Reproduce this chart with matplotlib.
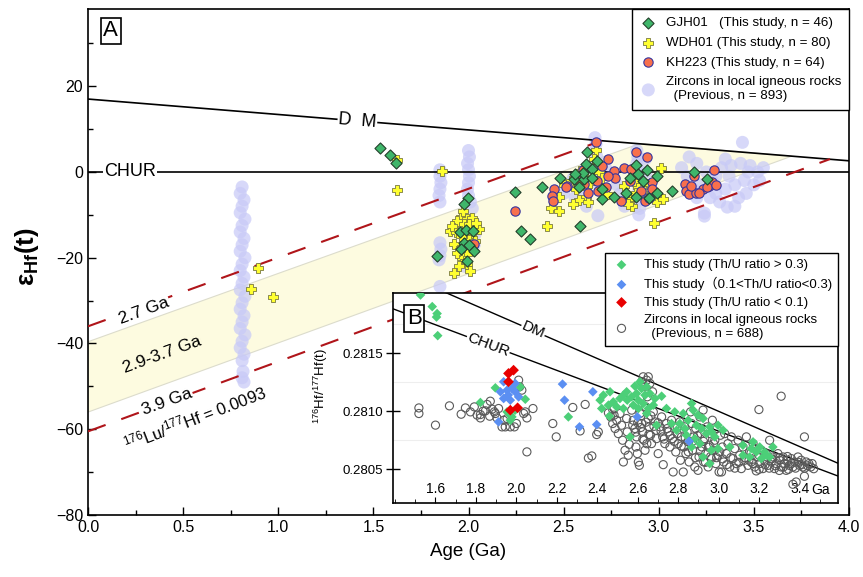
import matplotlib
matplotlib.use('Agg')
import matplotlib.pyplot as plt
from matplotlib.ticker import MultipleLocator, FormatStrFormatter
import matplotlib.transforms as mtransforms

plt.rcParams['font.family'] = ['Liberation Sans', 'Noto Sans CJK SC', 'DejaVu Sans']
plt.rcParams['mathtext.fontset'] = 'custom'
plt.rcParams['mathtext.rm'] = 'Liberation Sans'
plt.rcParams['mathtext.it'] = 'Liberation Sans:italic'
plt.rcParams['mathtext.bf'] = 'Liberation Sans:bold'

# ---------------- model lines (main panel) ----------------
dm_age = [0.0, 4.0]
dm_eps = [17.0, 2.6]
chur_age = [0.0, 4.0]
chur_eps = [0.0, 0.0]
cc27_age = [0.0, 2.7]
cc27_eps = [-36.0, 7.3]
cc39_age = [0.0, 3.9]
cc39_eps = [-60.5, 3.0]
band_age = [0.0, 2.9, 3.7, 0.0]
band_eps = [-39.6, 6.6, 3.7, -56.0]

# ---------------- main panel data (age Ga, eHf(t)) ----------------
gjh01 = [(1.533, 5.6), (1.589, 4.0), (1.62, 2.0), (1.998, -6.1), (1.975, -7.4), (1.832, -19.6),
         (1.955, -14.1), (1.985, -13.5), (2.025, -13.8), (1.975, -16.5), (2.0, -17.0), (1.96, -18.0),
         (2.03, -18.5), (1.99, -20.8), (2.242, -4.6), (2.274, -13.7), (2.323, -15.7),
         (2.625, 4.6), (2.616, 1.9), (2.677, 2.6), (2.651, 0.7), (2.554, -1.6), (2.481, -1.5),
         (2.607, -1.6), (2.651, -1.3), (2.388, -3.4), (2.879, 1.6), (2.937, 0.5), (2.891, -0.5),
         (2.919, -2.0), (2.993, -1.0), (2.829, -4.8), (2.879, -5.9), (2.765, -5.9), (2.704, -6.3),
         (2.989, -4.8), (3.072, -4.4), (2.586, -12.7), (3.186, 0.1), (3.256, -1.6),
         (2.58, -3.5), (2.70, -4.0), (2.85, -1.5), (2.95, -6.0), (2.60, -0.3), (2.56, -0.5)]

wdh01 = [(1.625, 2.9), (1.861, 0.2), (1.623, -4.1), (1.923, -23.5), (0.896, -22.5), (0.856, -27.2),
         (0.975, -29.1),
         (1.958, -10.4), (1.993, -11.0), (2.019, -10.8), (1.940, -11.4), (1.975, -12.2), (2.002, -12.2),
         (2.054, -13.3), (1.905, -13.7), (1.932, -14.1), (1.958, -14.9), (2.011, -14.9), (1.984, -16.5),
         (1.923, -16.8), (1.967, -17.6), (2.019, -18.0), (1.993, -19.2), (1.967, -20.0), (1.984, -20.7),
         (1.993, -21.5), (1.97, -9.0), (2.04, -12.0), (1.915, -12.5), (2.0, -15.8), (1.94, -18.8),
         (2.035, -16.0), (1.95, -22.0), (2.01, -23.0),
         (2.668, 5.2), (2.586, 0.3), (2.686, 0.1), (2.563, -4.0), (2.616, -3.8), (2.616, -5.9),
         (2.475, -5.9), (2.432, -8.5), (2.475, -9.1), (2.411, -12.7), (2.726, -5.1), (2.818, -3.2),
         (2.891, -3.6), (2.949, -2.8), (3.011, 0.9), (2.853, -6.3), (2.861, -7.9), (2.993, -7.1),
         (3.024, -6.3), (2.975, -11.9),
         (2.54, -2.0), (2.60, -1.0), (2.58, -6.5), (2.64, -2.5), (2.66, 3.0), (2.70, -1.5),
         (2.88, -5.0), (2.92, -4.5), (2.84, -7.5), (2.55, -7.5), (2.50, -3.0), (2.63, -7.0),
         (2.95, -5.5), (2.87, -2.0)]

kh223 = [(2.668, 7.1), (2.733, 3.0), (2.879, 4.6), (2.940, 3.4), (2.818, 0.9), (2.853, 0.7),
         (2.765, 0.3), (2.768, -1.5), (2.733, -1.0), (2.677, -2.0), (2.607, -2.8), (2.519, -3.2),
         (2.511, -3.6), (2.449, -4.0), (2.440, -5.5), (2.445, -6.7), (2.721, -3.6), (2.80, -6.7),
         (2.966, -2.4), (2.966, -4.0), (2.926, -6.7), (2.905, -4.4), (3.137, -2.8), (3.142, -4.4),
         (2.581, -2.0), (3.186, -0.9), (3.159, -5.1), (3.195, -4.8), (3.235, -4.0), (3.265, -3.2),
         (3.282, -2.4), (3.291, 0.5), (3.253, -3.6), (2.247, -9.0), (2.03, -16.8),
         (2.68, -4.5), (2.63, -5.0), (2.70, 1.5), (2.60, 0.5), (2.85, -2.0), (2.95, -6.0),
         (3.21, -5.0), (3.17, -3.3), (3.30, -3.0)]

prev_main = [(0.81, -3.5), (0.80, -5), (0.82, -6.5), (0.81, -8), (0.80, -9.5), (0.825, -11),
             (0.81, -12.5), (0.80, -14), (0.82, -15.5), (0.81, -17), (0.80, -18.5), (0.825, -20),
             (0.81, -21.5), (0.80, -23), (0.82, -24.5), (0.81, -26), (0.80, -27.5), (0.825, -29),
             (0.81, -30.5), (0.80, -32), (0.82, -33.5), (0.81, -35), (0.80, -36.5), (0.825, -38),
             (0.81, -39.5), (0.80, -41), (0.82, -42.5), (0.81, -44), (0.815, -46.5), (0.81, -48),
             (0.82, -49),
             (1.85, 0.5), (1.85, -1), (1.855, -2.5), (1.85, -4), (1.845, -5.5), (1.85, -7),
             (1.85, -16.5), (1.855, -18), (1.85, -19.5), (1.845, -20.5), (1.85, -26.7),
             (2.0, 5), (2.005, 3.5), (1.995, 2), (2.0, 0.5), (2.005, -1), (2.0, -2.5), (1.995, -4),
             (2.0, -5.5), (2.01, -7), (2.02, -8.5), (2.03, -12), (2.035, -14.5), (2.03, -17), (1.98, -22),
             (2.665, 8), (2.67, 6.5), (2.665, 5), (2.675, 3.5), (2.67, 2), (2.665, 0.5), (2.67, -1),
             (2.675, -2.5), (2.68, -10.2), (2.6, -4), (2.55, -1.5), (2.72, 1), (2.56, -6), (2.5, -5),
             (2.62, -8),
             (2.885, 5), (2.89, 3.5), (2.885, 2), (2.895, 0.5), (2.89, -1), (2.885, -2.5), (2.895, -4),
             (2.89, -5.5), (2.885, -7), (2.9, -8.5), (2.895, -10), (2.93, 3), (2.935, 0), (2.93, -3),
             (2.94, -6), (2.78, -3), (2.8, -5), (2.82, -8),
             (3.15, -1), (3.2, 2), (3.22, -3), (3.25, 0), (3.28, -2), (3.3, -5), (3.32, -7), (3.35, -4),
             (3.37, -1), (3.38, 1.5), (3.4, -3), (3.42, -6), (3.45, -2), (3.47, 0), (3.43, 2),
             (3.36, -8.2), (3.24, -9.6), (3.44, 6.9), (3.3, -1), (3.27, -6), (3.33, 1), (3.18, -4),
             (3.4, -8), (3.46, -5), (3.35, 3), (3.5, -3), (3.52, 0), (3.48, 1.5), (3.55, 1), (3.53, -2),
             (3.12, 1), (3.16, 3.5), (3.2, -6), (3.24, -10.3)]

# ---------------- inset model lines (176Hf/177Hf) ----------------
dm_in_age = [1.39, 3.59]
dm_in_r = [0.282218, 0.280552]
chur_in_age = [1.39, 3.59]
chur_in_r = [0.281881, 0.280442]

# ---------------- inset data (age Ga, 176Hf/177Hf(t)) ----------------
thu_high = [(1.526, 0.28200), (1.584, 0.28190), (1.608, 0.28184), (1.605, 0.28181), (1.611, 0.28165),
            (1.822, 0.281075), (1.896, 0.281201), (2.019, 0.281209), (2.044, 0.281103),
            (1.994, 0.281009), (1.978, 0.280951), (1.970, 0.280922), (1.954, 0.280994),
            (2.257, 0.280951), (1.970, 0.280965), (2.003, 0.281023),
            (2.414, 0.281095), (2.430, 0.281138), (2.463, 0.281167), (2.422, 0.281023), (2.460, 0.280957),
            (2.479, 0.281080), (2.512, 0.281109), (2.529, 0.281138), (2.548, 0.281095), (2.570, 0.281124),
            (2.594, 0.281152), (2.611, 0.281253), (2.619, 0.281195), (2.636, 0.281138), (2.660, 0.281152),
            (2.685, 0.281109), (2.718, 0.281129), (2.578, 0.281052), (2.603, 0.281023), (2.627, 0.281066),
            (2.652, 0.281023), (2.677, 0.281052), (2.644, 0.280980), (2.562, 0.280779), (2.529, 0.281023),
            (2.496, 0.281037), (2.455, 0.281052), (2.545, 0.281167), (2.586, 0.281216), (2.644, 0.281210),
            (2.603, 0.281095),
            (2.742, 0.281023), (2.783, 0.280994), (2.825, 0.280980), (2.866, 0.281066), (2.874, 0.281009),
            (2.898, 0.280966), (2.923, 0.280937), (2.849, 0.280922), (2.808, 0.280894), (2.767, 0.280894),
            (2.693, 0.280879), (2.792, 0.280836), (2.833, 0.280851), (2.890, 0.280879), (2.915, 0.280851),
            (2.956, 0.280865), (2.997, 0.280879), (2.841, 0.280793), (2.882, 0.280764), (2.907, 0.280721),
            (2.940, 0.280807), (2.981, 0.280779), (2.964, 0.280822), (3.022, 0.280836), (3.055, 0.280692),
            (2.997, 0.280678), (2.964, 0.280664), (2.956, 0.280549), (2.923, 0.280606), (2.866, 0.280692),
            (3.120, 0.280707), (3.170, 0.280736), (3.161, 0.280678), (3.203, 0.280692), (3.227, 0.280649),
            (3.235, 0.280621), (3.268, 0.280692), (3.120, 0.280621), (3.153, 0.280606), (3.186, 0.280649),
            (3.252, 0.280606), (3.211, 0.280592)]

thu_mid = [(1.937, 0.281253), (1.921, 0.281167), (1.954, 0.281181), (1.978, 0.281196), (1.994, 0.281167),
           (2.011, 0.281123), (1.937, 0.281109), (1.970, 0.281095), (1.912, 0.280908), (1.994, 0.281239),
           (1.96, 0.281140), (2.228, 0.281233), (2.238, 0.281095), (2.378, 0.281167), (2.312, 0.280865),
           (2.397, 0.280885), (2.598, 0.280951), (2.854, 0.280741)]

thu_low = [(1.961, 0.281325), (1.986, 0.281353), (1.961, 0.281253), (1.970, 0.281009), (2.006, 0.281029)]

prev_inset = [(1.518, 0.281028), (1.518, 0.280980), (1.600, 0.280880), (1.669, 0.281046), (1.727, 0.280974),
              (1.748, 0.281028), (1.773, 0.280994), (1.792, 0.281037), (1.806, 0.280966), (1.822, 0.280942),
              (1.835, 0.281000), (1.855, 0.281058), (1.871, 0.281086), (1.880, 0.281017), (1.896, 0.280980),
              (1.912, 0.281023), (1.904, 0.280942), (1.929, 0.280865), (1.954, 0.280937), (1.970, 0.280865),
              (1.990, 0.280865), (2.011, 0.281267), (2.016, 0.281210), (2.044, 0.280994), (2.052, 0.280942),
              (2.082, 0.281023), (2.052, 0.280650), (2.180, 0.280894), (2.197, 0.280779), (2.279, 0.281032),
              (2.315, 0.280830), (2.356, 0.280597), (2.373, 0.280615), (2.340, 0.281058), (2.405, 0.280822),
              (2.397, 0.280799), (2.476, 0.281015), (2.483, 0.280966), (1.822, 0.280971), (1.847, 0.281003),
              (1.868, 0.280957), (1.891, 0.280994), (1.937, 0.280922), (1.945, 0.280865), (2.000, 0.280894),
              (2.036, 0.280980), (2.027, 0.281181),
              (2.455, 0.280986), (2.466, 0.280951), (2.476, 0.280894), (2.483, 0.281023), (2.488, 0.280851),
              (2.496, 0.280922), (2.504, 0.280807), (2.512, 0.280980), (2.520, 0.280879), (2.525, 0.280750),
              (2.529, 0.280563), (2.537, 0.280664), (2.545, 0.280937), (2.548, 0.280822), (2.558, 0.280715),
              (2.553, 0.280621),
              (2.627, 0.281296), (2.652, 0.281296), (2.644, 0.281267), (2.660, 0.281239), (2.636, 0.281210),
              (2.619, 0.281253), (2.570, 0.281009), (2.578, 0.280922), (2.586, 0.280851), (2.594, 0.280779),
              (2.591, 0.280692), (2.598, 0.280635), (2.603, 0.280563), (2.608, 0.280534), (2.611, 0.280980),
              (2.619, 0.280894), (2.624, 0.280822), (2.631, 0.280750), (2.636, 0.280664), (2.640, 0.281037),
              (2.647, 0.281124), (2.652, 0.280937), (2.657, 0.280865), (2.663, 0.280793), (2.668, 0.280721),
              (2.673, 0.281167), (2.677, 0.280994), (2.685, 0.280908), (2.690, 0.280836), (2.693, 0.280764),
              (2.701, 0.280635), (2.710, 0.280865), (2.718, 0.280951), (2.723, 0.280779), (2.726, 0.280540),
              (2.734, 0.280721), (2.742, 0.280894), (2.751, 0.280822), (2.759, 0.280692), (2.767, 0.280922),
              (2.772, 0.280764), (2.775, 0.280477), (2.783, 0.280865), (2.788, 0.280649), (2.795, 0.280807),
              (2.800, 0.280721), (2.808, 0.280908), (2.811, 0.280578), (2.816, 0.280779), (2.825, 0.280477),
              (2.828, 0.280692), (2.833, 0.280865), (2.838, 0.280635), (2.844, 0.280822), (2.849, 0.280736),
              (2.854, 0.280563),
              (2.861, 0.280994), (2.866, 0.280894), (2.871, 0.280664), (2.877, 0.280779), (2.882, 0.280520),
              (2.887, 0.280851), (2.890, 0.280721), (2.898, 0.280491), (2.903, 0.280606), (2.907, 0.280951),
              (2.912, 0.280807), (2.917, 0.280692), (2.923, 0.281009), (2.926, 0.280563), (2.931, 0.280764),
              (2.936, 0.280635), (2.943, 0.280865), (2.948, 0.280520), (2.953, 0.280707), (2.959, 0.280807),
              (2.964, 0.280592), (2.969, 0.280922), (2.976, 0.280664), (2.981, 0.280750), (2.986, 0.280549),
              (2.992, 0.280851), (2.997, 0.280621), (3.002, 0.280477), (3.009, 0.280793), (3.014, 0.280477),
              (3.018, 0.280692),
              (3.025, 0.280563), (3.030, 0.280807), (3.038, 0.280635), (3.046, 0.280721), (3.055, 0.280520),
              (3.063, 0.280779), (3.071, 0.280592), (3.079, 0.280678), (3.087, 0.280549), (3.096, 0.280750),
              (3.104, 0.280621), (3.112, 0.280506), (3.120, 0.280692), (3.129, 0.280578), (3.137, 0.280779),
              (3.145, 0.280534), (3.153, 0.280649), (3.161, 0.280563), (3.170, 0.280721), (3.178, 0.280520),
              (3.186, 0.280486), (3.199, 0.281014),
              (3.194, 0.280606), (3.203, 0.280549), (3.211, 0.280664), (3.219, 0.280506), (3.227, 0.280578),
              (3.235, 0.280635), (3.244, 0.280534), (3.252, 0.280750), (3.260, 0.280563), (3.268, 0.280606),
              (3.276, 0.280506), (3.285, 0.280549), (3.293, 0.280635), (3.301, 0.280578), (3.309, 0.281129),
              (3.309, 0.280520), (3.318, 0.280606), (3.326, 0.280549), (3.334, 0.280491), (3.342, 0.280578),
              (3.350, 0.280534), (3.359, 0.280592), (3.367, 0.280520), (3.367, 0.280371), (3.375, 0.280563),
              (3.383, 0.280391), (3.392, 0.280606), (3.400, 0.280534), (3.408, 0.280578), (3.416, 0.280520),
              (3.424, 0.280779), (3.424, 0.280440), (3.433, 0.280563), (3.446, 0.280549), (3.462, 0.280549),
              (2.600, 0.280900), (2.615, 0.280860), (2.640, 0.280905), (2.655, 0.280800), (2.665, 0.280960),
              (2.680, 0.280870), (2.625, 0.280760), (2.645, 0.280720), (2.590, 0.280820), (2.575, 0.280880),
              (2.700, 0.280900), (2.715, 0.280830), (2.730, 0.280760), (2.745, 0.280850), (2.760, 0.280790),
              (2.780, 0.280740), (2.795, 0.280860), (2.815, 0.280700), (2.835, 0.280770), (2.850, 0.280650),
              (2.870, 0.280740), (2.885, 0.280600), (2.895, 0.280790), (2.910, 0.280660), (2.925, 0.280740),
              (2.935, 0.280560), (2.950, 0.280690), (2.960, 0.280610), (2.975, 0.280720), (2.990, 0.280600),
              (3.005, 0.280650), (3.020, 0.280590), (3.040, 0.280540), (3.060, 0.280600), (3.080, 0.280510),
              (3.100, 0.280560), (3.130, 0.280600), (3.150, 0.280580), (3.170, 0.280550), (3.200, 0.280500),
              (3.230, 0.280540), (3.250, 0.280510), (3.280, 0.280530), (3.300, 0.280490), (3.320, 0.280520),
              (3.345, 0.280500), (3.360, 0.280550), (3.380, 0.280510), (3.395, 0.280560), (3.410, 0.280540),
              (3.425, 0.280510), (3.440, 0.280530), (3.455, 0.280520), (3.470, 0.280505), (3.300, 0.280600),
              (3.260, 0.280590), (3.340, 0.280610), (3.200, 0.280620), (3.160, 0.280640)]


def xs(pts):
    return [p[0] for p in pts]


def ys(pts):
    return [p[1] for p in pts]


W, H = 863, 577
fig = plt.figure(figsize=(W / 100, H / 100), dpi=100)

# ---------------- main axes ----------------
ax = fig.add_axes([88 / W, 1 - 515 / H, (849 - 88) / W, (515 - 9) / H])
ax.set_xlim(0, 4.0)
ax.set_ylim(-80, 38)

ax.fill(band_age, band_eps, facecolor='#fdfbe0', edgecolor='#dcdccc', lw=0.8, zorder=1)
ax.scatter(xs(prev_main), ys(prev_main), s=88, facecolor='#c8caf7', edgecolor='none', alpha=0.72,
           zorder=2, label='Zircons in local igneous rocks\n  (Previous, n = 893)')
ax.plot(dm_age, dm_eps, color='black', lw=1.2, zorder=3)
ax.plot(chur_age, chur_eps, color='black', lw=1.2, zorder=3)
ax.plot(cc27_age, cc27_eps, color='#b0151a', lw=1.5, dashes=(9, 8), zorder=3)
ax.plot(cc39_age, cc39_eps, color='#b0151a', lw=1.5, dashes=(9, 8), zorder=3)

h_g = ax.scatter(xs(gjh01), ys(gjh01), s=32, marker='D', facecolor='#3fb66a', edgecolor='#24402c',
                 lw=0.8, zorder=5, label='GJH01   (This study, n = 46)')
h_w = ax.scatter(xs(wdh01), ys(wdh01), s=60, marker='P', facecolor='#ffff30', edgecolor='#7a7a40',
                 lw=0.6, zorder=4, label='WDH01 (This study, n = 80)')
h_k = ax.scatter(xs(kh223), ys(kh223), s=45, marker='o', facecolor='#f8704c', edgecolor='#3535a0',
                 lw=0.8, zorder=4, label='KH223 (This study, n = 64)')

ax.xaxis.set_major_locator(MultipleLocator(0.5))
ax.xaxis.set_minor_locator(MultipleLocator(0.25))
ax.xaxis.set_major_formatter(FormatStrFormatter('%.1f'))
ax.yaxis.set_major_locator(MultipleLocator(20))
ax.yaxis.set_minor_locator(MultipleLocator(10))
ax.tick_params(which='both', direction='in', labelsize=11.5)
ax.tick_params(which='major', length=6, width=1)
ax.tick_params(which='minor', length=3.5, width=1)
ax.set_yticks([-80, -60, -40, -20, 0, 20])
for sp in ax.spines.values():
    sp.set_linewidth(1.2)
ax.set_xlabel('Age (Ga)', fontsize=13.5, labelpad=6)
fig.text(27 / W, 1 - 257 / H, r'$\mathbf{ε_{Hf}(t)}$', rotation=90, ha='center', va='center',
         fontsize=18.5)

wb = dict(boxstyle='square,pad=0.05', fc='white', ec='none')
ax.text(0.03, 0.957, 'A', transform=ax.transAxes, fontsize=16, ha='center', va='center',
        bbox=dict(boxstyle='square,pad=0.12', fc='white', ec='black', lw=1.2), zorder=6)
ax.text(0.221, 0.0, 'CHUR', fontsize=13, ha='center', va='center', bbox=wb, zorder=4)
ax.text(1.416, 11.9, 'D  M', fontsize=13, ha='center', va='center', rotation=-4.6, bbox=wb, zorder=4)
ax.text(0.295, -32.3, '2.7 Ga', fontsize=12.5, ha='center', va='center', rotation=20, bbox=wb, zorder=4)
ax.text(0.39, -42.6, '2.9-3.7 Ga', fontsize=12.5, ha='center', va='center', rotation=20, zorder=4)
ax.text(0.415, -53.6, '3.9 Ga', fontsize=12.5, ha='center', va='center', rotation=20, bbox=wb, zorder=4)
ax.text(0.56, -57.5, r'$^{176}$Lu/$^{177}$Hf = 0.0093', fontsize=12, ha='center', va='center',
        rotation=21, zorder=4)

leg = ax.legend(handles=[h_g, h_w, h_k, ax.collections[0]], loc='upper right', borderaxespad=0,
                fontsize=9.6, frameon=True, fancybox=False, edgecolor='black', framealpha=1,
                handletextpad=0.7, labelspacing=0.55, borderpad=0.6, handlelength=1.2)
leg.get_frame().set_linewidth(1.0)
leg.set_zorder(10)

# ---------------- inset ----------------
ax2 = fig.add_axes([393 / W, 1 - 503 / H, (838 - 393) / W, (503 - 293) / H])
ax2.set_facecolor('white')
ax2.set_xlim(1.39, 3.59)
ax2.set_ylim(0.28021, 0.282017)
for yy in [0.28075, 0.28125, 0.28175]:
    ax2.axhline(yy, color='#eeeeee', lw=0.8, zorder=0)
ax2.plot(dm_in_age, dm_in_r, color='black', lw=1.0, zorder=2)
ax2.plot(chur_in_age, chur_in_r, color='black', lw=1.0, zorder=2)
h_p = ax2.scatter(xs(prev_inset), ys(prev_inset), s=34, facecolor='none', edgecolor='#5a5a5a', lw=0.8,
                  zorder=3, label='Zircons in local igneous rocks\n  (Previous, n = 688)')
h_hi = ax2.scatter(xs(thu_high), ys(thu_high), s=24, marker='D', facecolor='#4ccf78', edgecolor='none',
                   zorder=4, label='This study (Th/U ratio > 0.3)')
h_mi = ax2.scatter(xs(thu_mid), ys(thu_mid), s=24, marker='D', facecolor='#5b8ff2', edgecolor='none',
                   zorder=5, label='This study（0.1<Th/U ratio<0.3)')
h_lo = ax2.scatter(xs(thu_low), ys(thu_low), s=30, marker='D', facecolor='#e80000', edgecolor='none',
                   zorder=6, label='This study (Th/U ratio < 0.1)')

ax2.xaxis.set_minor_locator(MultipleLocator(0.1))
ax2.set_xticks([1.6, 1.8, 2.0, 2.2, 2.4, 2.6, 2.8, 3.0, 3.2, 3.4])
ax2.xaxis.set_major_formatter(FormatStrFormatter('%.1f'))
ax2.tick_params(axis='x', which='both', direction='in', pad=-15, labelsize=10)
ax2.tick_params(axis='x', which='major', length=4)
ax2.tick_params(axis='x', which='minor', length=3)
ax2.set_yticks([0.2805, 0.2810, 0.2815])
ax2.yaxis.set_major_formatter(FormatStrFormatter('%.4f'))
ax2.tick_params(axis='y', direction='inout', length=10, width=1, pad=2, labelsize=9.5)
for sp in ax2.spines.values():
    sp.set_linewidth(1.2)
trans = mtransforms.blended_transform_factory(ax2.transData, ax2.transAxes)
ax2.text(3.458, 0.062, 'Ga', transform=trans, fontsize=10, ha='left', va='center')
ax2.text(0.048, 0.879, 'B', transform=ax2.transAxes, fontsize=16, ha='center', va='center',
         bbox=dict(boxstyle='square,pad=0.12', fc='white', ec='black', lw=1.2), zorder=7)
ax2.text(2.083, 0.281698, 'DM', fontsize=11, ha='center', va='center', rotation=-23.4, bbox=wb, zorder=3)
ax2.text(1.861, 0.281573, 'CHUR', fontsize=11, ha='center', va='center', rotation=-20.5, bbox=wb, zorder=3)
fig.text(321 / W, 1 - 386 / H, r'$^{176}$Hf/$^{177}$Hf(t)', rotation=90, ha='center', va='center',
         fontsize=9.5)

leg2 = ax2.legend(handles=[h_hi, h_mi, h_lo, h_p], loc='upper right', bbox_to_anchor=(1.0, 1.19),
                  borderaxespad=0, fontsize=9.5, frameon=True, fancybox=False, edgecolor='black',
                  framealpha=1, handletextpad=0.9, labelspacing=0.42, borderpad=0.45, handlelength=1.6)
leg2.get_frame().set_linewidth(1.0)
leg2.set_zorder(10)

fig.savefig('out.png', dpi=100)
